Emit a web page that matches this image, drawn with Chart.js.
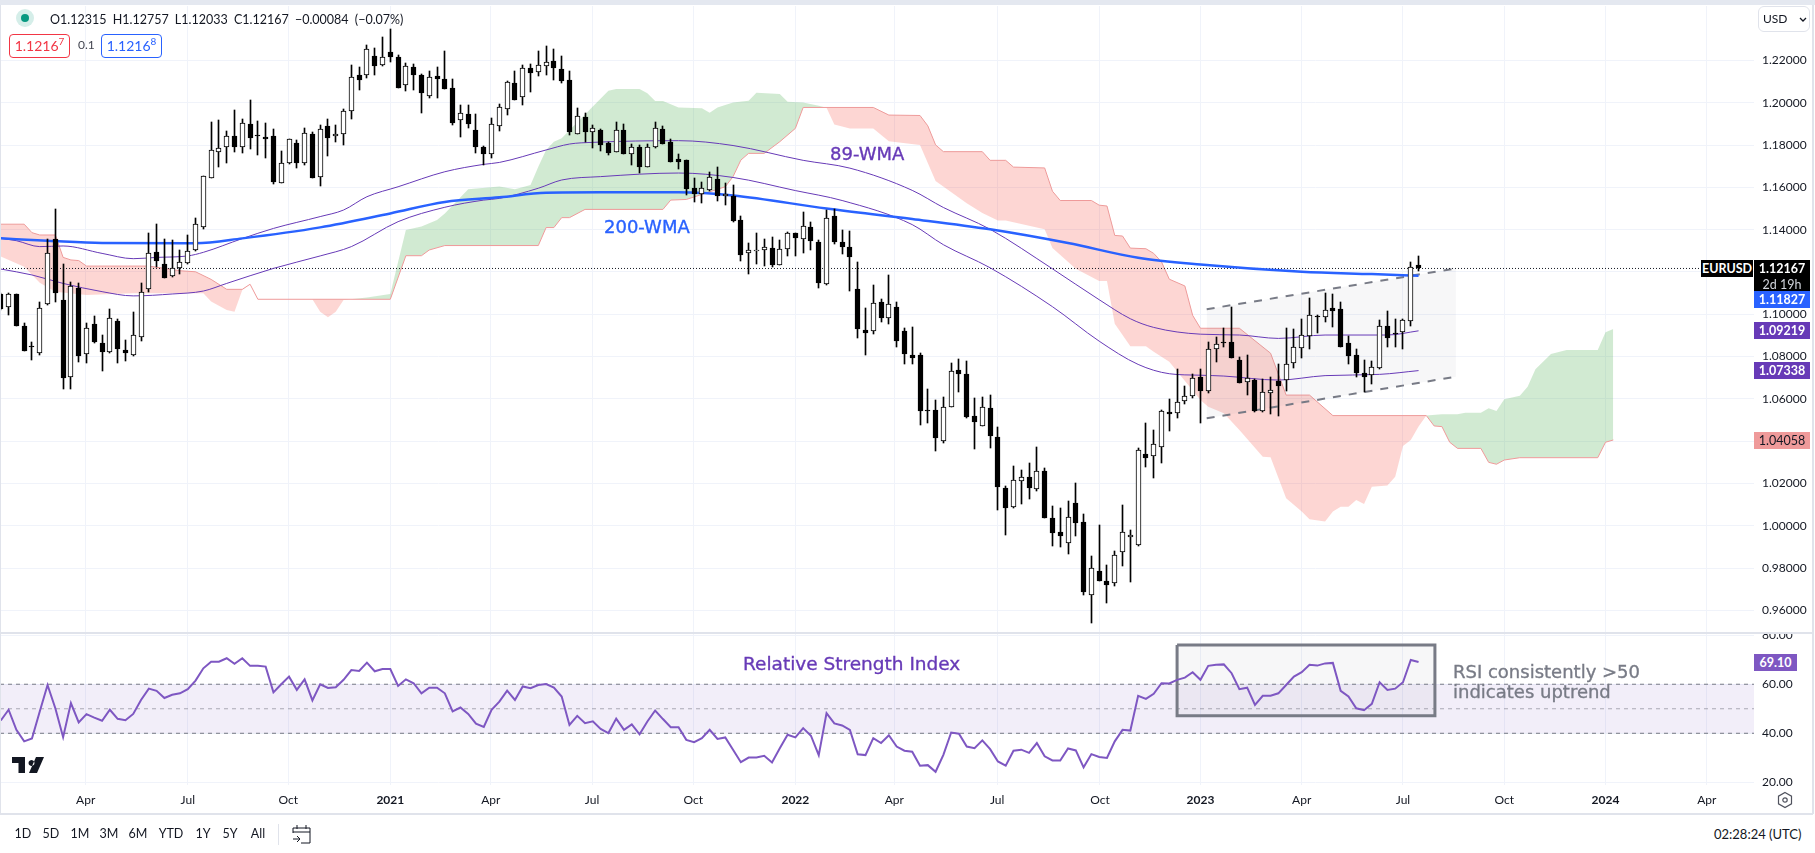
<!DOCTYPE html>
<html>
<head>
<meta charset="utf-8">
<title>EURUSD</title>
<script src="https://cdn.jsdelivr.net/npm/chart.js@4/dist/chart.umd.min.js"></script>
<style>
    html, body { margin: 0; padding: 0; background: #fff; }
    #page { position: relative; width: 1815px; height: 853px; overflow: hidden; background: #fff; color: #131722; font-family: Lato, sans-serif; font-size: 13px; }
    #page canvas { position: absolute; left: 0; }
    #page div, #page span.abs { position: absolute; white-space: nowrap; }
    #topbar { left: 0; top: 0; width: 1815px; height: 5px; background: #e4e8f0; }
    #sep1 { left: 0; top: 632px; width: 1813px; height: 2px; background: #e0e3eb; }
    #sep2 { left: 0; top: 813px; width: 1813px; height: 2px; background: #e0e3eb; }
    #edgeL { left: 0; top: 5px; width: 1px; height: 809px; background: #e0e3eb; }
    #edgeR { left: 1812px; top: 5px; width: 2px; height: 809px; background: #e0e3eb; }
    #halo { left: 16px; top: 9px; width: 18px; height: 18px; border-radius: 50%; background: #d5eee9; }
    #dot { left: 21px; top: 14px; width: 8px; height: 8px; border-radius: 50%; background: #089981; }
    #ohlc { left: 50px; top: 11px; line-height: 18px; font-size: 12.5px; word-spacing: 3px; }
    .quote { top: 34px; height: 22px; line-height: 22px; border-radius: 4px; text-align: center; background: #fff; font-size: 14px; }
    .quote sup { font-size: 10px; line-height: 0; }
    #sell { left: 9px; width: 59px; border: 1px solid #f23645; color: #f23645; }
    #buy { left: 101px; width: 59px; border: 1px solid #2962ff; color: #2962ff; }
    #spread { left: 78px; top: 37px; font-size: 12px; color: #434651; }
    #usd { left: 1758px; top: 6px; width: 50px; height: 24px; border: 1px solid #e0e3eb; border-radius: 6px; line-height: 24px; text-indent: 4px; font-size: 12px; }
    .tag { height: 17px; line-height: 17px; font-size: 12.5px; text-align: center; color: #fff; font-weight: 700; }
    #tagSymbol { left: 1701px; top: 260px; width: 52px; background: #000; }
    #tagLast { left: 1754px; top: 260px; width: 56px; height: 31px; background: #000; }
    #tagCount { left: 1754px; top: 276px; width: 56px; color: #d1d4dc; font-weight: 400; }
    #tagWma200 { left: 1754px; top: 291px; width: 56px; background: #2962ff; }
    #tagWma89 { left: 1754px; top: 322px; width: 56px; background: #673ab7; }
    #tagWma55 { left: 1754px; top: 362px; width: 56px; background: #673ab7; }
    #tagSpan { left: 1754px; top: 432px; width: 56px; background: #ef9a9a; color: #131722; font-weight: 400; }
    #tagRsi { left: 1754px; top: 654px; width: 43px; background: #7e57c2; }
    .note { font-family: "DejaVu Sans", sans-serif; -webkit-text-stroke: 0.35px currentColor; }
    #note89 { left: 830px; top: 141px; font-size: 18px; line-height: 26px; color: #673ab7; }
    #note200 { left: 604px; top: 214px; font-size: 18px; line-height: 26px; color: #2962ff; }
    #noteRsi { left: 743px; top: 652px; font-size: 18.5px; line-height: 24px; color: #673ab7; }
    #noteUp { left: 1453px; top: 662px; font-size: 18px; line-height: 20px; color: #787b86; }
    #logo { left: 12px; top: 757px; width: 32px; height: 16px; }
    .range { top: 825px; line-height: 18px; font-size: 12.5px; transform: translateX(-50%); }
    #rangeSep { left: 278px; top: 824px; width: 1px; height: 21px; background: #e0e3eb; }
    #calendar { left: 292px; top: 824px; width: 19px; height: 20px; }
    #gear { left: 1776px; top: 791px; width: 18px; height: 18px; }
    #clock { left: 1714px; top: 825px; line-height: 18px; font-size: 13px; }
</style>
</head>
<body>
<div id="page">
    <canvas id="price-chart" width="1815" height="633" style="top:0"></canvas>
    <canvas id="rsi-chart" width="1815" height="181" style="top:633px"></canvas>

    <div id="topbar"></div><div id="sep1"></div><div id="sep2"></div><div id="edgeL"></div><div id="edgeR"></div>

    <div id="halo"></div><div id="dot"></div>
    <div id="ohlc">O1.12315 H1.12757 L1.12033 C1.12167 −0.00084 (−0.07%)</div>
    <div id="sell" class="quote">1.1216<sup>7</sup></div>
    <div id="spread">0.1</div>
    <div id="buy" class="quote">1.1216<sup>8</sup></div>
    <div id="usd">USD<svg width="8" height="5" style="position:absolute;left:40px;top:10px"><path d="M1 1l3 3 3-3" fill="none" stroke="#131722" stroke-width="1.3"/></svg></div>

    <div id="note89" class="note">89-WMA</div>
    <div id="note200" class="note">200-WMA</div>
    <div id="noteRsi" class="note">Relative Strength Index</div>
    <div id="noteUp" class="note">RSI consistently &gt;50<br>indicates uptrend</div>

    <div id="tagSymbol" class="tag">EURUSD</div>
    <div id="tagLast" class="tag">1.12167</div>
    <div id="tagCount" class="tag">2d 19h</div>
    <div id="tagWma200" class="tag">1.11827</div>
    <div id="tagWma89" class="tag">1.09219</div>
    <div id="tagWma55" class="tag">1.07338</div>
    <div id="tagSpan" class="tag">1.04058</div>
    <div id="tagRsi" class="tag">69.10</div>

    <svg id="logo" class="abs" style="position:absolute" viewBox="0 0 32 16"><path d="M0 0h13v16H6.5V6H0zM16.5 6a3 3 0 1 0 0-.01zM24 0h8l-7 16h-8z" fill="#131722"/></svg>

    <div class="range" style="left:23px">1D</div>
    <div class="range" style="left:51px">5D</div>
    <div class="range" style="left:80px">1M</div>
    <div class="range" style="left:109px">3M</div>
    <div class="range" style="left:138px">6M</div>
    <div class="range" style="left:171px">YTD</div>
    <div class="range" style="left:203px">1Y</div>
    <div class="range" style="left:230px">5Y</div>
    <div class="range" style="left:258px">All</div>
    <div id="rangeSep"></div>
    <svg id="calendar" style="position:absolute" viewBox="0 0 19 20"><path d="M1 9V4h17v15H9M1 8h17M5 1v4M14 1v4M1 15h7M5 12l3 3-3 3" fill="none" stroke="#131722"/></svg>
    <svg id="gear" style="position:absolute" viewBox="0 0 18 18"><path d="M9 1.5l6.5 3.7v7.6L9 16.5l-6.5-3.7V5.200z" fill="none" stroke="#50535e" stroke-width="1.2"/><circle cx="9" cy="9" r="2.200" fill="none" stroke="#50535e" stroke-width="1.2"/></svg>
    <div id="clock">02:28:24 (UTC)</div>
</div>

<script>
    // weekly candles, index 0 is the week of 13 Jan 2020
    const opens = [
        1.1096,1.1033,1.1096,1.0945,1.0850,1.0815,1.1047,1.1354,1.1068,1.0705,
        1.1122,1.0810,1.0955,1.0863,1.0823,1.0968,1.0831,1.0808,1.0894,1.1118,
        1.1293,1.1238,1.1182,1.1217,1.1241,1.1302,1.1414,1.1643,1.1769,1.1790,
        1.1842,1.1790,1.1900,1.1846,1.1837,1.1843,1.1622,1.1714,1.1808,1.1717,
        1.1852,1.1648,1.1889,1.1842,1.1851,1.1960,1.2130,1.2133,1.2220,1.2177,
        1.2239,1.2215,1.2083,1.2168,1.2130,1.2034,1.2125,1.2111,1.2068,1.1917,
        1.1945,1.1870,1.1791,1.1756,1.1889,1.1972,1.2092,1.2029,1.2163,1.2144,
        1.2172,1.2199,1.2158,1.2106,1.1854,1.1931,1.1863,1.1870,1.1809,1.1769,
        1.1871,1.1759,1.1793,1.1697,1.1793,1.1875,1.1813,1.1735,1.1728,1.1595,
        1.1570,1.1590,1.1639,1.1557,1.1560,1.1448,1.1289,1.1297,1.1302,1.1313,
        1.1235,1.1311,1.1383,1.1354,1.1411,1.1342,1.1142,1.1463,1.1342,1.1318,
        1.1119,1.0924,1.0919,1.1056,1.0984,1.1033,1.0921,1.0807,1.0807,1.0548,
        1.0546,1.0403,1.0564,1.0735,1.0720,1.0517,1.0474,1.0556,1.0418,1.0177,
        1.0087,1.0211,1.0229,1.0175,1.0258,1.0035,0.9970,0.9921,1.0107,1.0017,
        0.9672,0.9784,0.9737,0.9729,0.9875,0.9945,0.9908,1.0338,1.0328,1.0374,
        1.0537,1.0532,1.0592,1.0615,1.0702,1.0639,1.0834,1.0869,1.0867,1.0782,
        1.0682,1.0688,1.0544,1.0626,1.0685,1.0688,1.0771,1.0839,1.0899,1.0992,
        1.0989,1.1030,1.1024,1.0863,1.0806,1.0721,1.0711,1.0748,1.0943,1.0910,
        1.0915,1.0970,1.12315
    ];
    const highs = [
        1.1099,1.1099,1.1096,1.0961,1.0871,1.1057,1.1354,1.1498,1.1238,1.1153,
        1.1146,1.0958,1.0992,1.0902,1.1024,1.0976,1.0878,1.1010,1.1146,1.1383,
        1.1427,1.1356,1.1352,1.1304,1.1375,1.1454,1.1655,1.1909,1.1919,1.1867,
        1.1966,1.1923,1.2013,1.1915,1.1906,1.1875,1.1772,1.1830,1.1824,1.1881,
        1.1860,1.1893,1.1923,1.1895,1.1969,1.2179,1.2171,1.2273,1.2257,1.2311,
        1.2347,1.2226,1.2187,1.2183,1.2135,1.2150,1.2171,1.2245,1.2111,1.1990,
        1.1988,1.1947,1.1796,1.1930,1.1994,1.2103,1.2150,1.2179,1.2183,1.2245,
        1.2268,1.2253,1.2221,1.2150,1.1977,1.1950,1.1895,1.1875,1.1817,1.1907,
        1.1899,1.1805,1.1801,1.1806,1.1907,1.1891,1.1829,1.1757,1.1728,1.1643,
        1.1626,1.1671,1.1696,1.1619,1.1609,1.1463,1.1337,1.1383,1.1354,1.1365,
        1.1349,1.1391,1.1386,1.1484,1.1435,1.1349,1.1492,1.1500,1.1399,1.1394,
        1.1248,1.1028,1.1139,1.1072,1.1186,1.1056,1.0935,1.0938,1.0816,1.0645,
        1.0597,1.0610,1.0768,1.0789,1.0779,1.0605,1.0610,1.0618,1.0466,1.0190,
        1.0282,1.0263,1.0295,1.0372,1.0274,1.0092,1.0084,1.0116,1.0203,1.0054,
        0.9856,1.0002,0.9815,0.9880,1.0097,0.9978,1.0369,1.0486,1.0453,1.0548,
        1.0598,1.0740,1.0661,1.0716,1.0740,1.0869,1.0894,1.0934,1.1036,1.0800,
        1.0806,1.0693,1.0694,1.0705,1.0763,1.0934,1.0931,1.0976,1.1075,1.0998,
        1.1102,1.1096,1.1058,1.0897,1.0834,1.0784,1.0781,1.0973,1.1016,1.0976,
        1.0976,1.1246,1.12757
    ];
    const lows = [
        1.1021,1.0997,1.0945,1.0828,1.0784,1.0807,1.1043,1.1060,1.0645,1.0645,
        1.0776,1.0771,1.0863,1.0733,1.0815,1.0768,1.0781,1.0804,1.0875,1.1107,
        1.1225,1.1173,1.1174,1.1190,1.1238,1.1299,1.1403,1.1643,1.1698,1.1717,
        1.1769,1.1764,1.1782,1.1753,1.1737,1.1616,1.1619,1.1711,1.1693,1.1708,
        1.1646,1.1608,1.1750,1.1816,1.1802,1.1925,1.2062,1.2119,1.2133,1.2176,
        1.2194,1.2071,1.2057,1.2062,1.1953,1.2024,1.2024,1.2067,1.1897,1.1840,
        1.1879,1.1764,1.1706,1.1741,1.1868,1.1942,1.2013,1.1990,1.2053,1.2127,
        1.2131,1.2108,1.2095,1.1848,1.1851,1.1813,1.1785,1.1772,1.1753,1.1769,
        1.1757,1.1707,1.1668,1.1696,1.1788,1.1806,1.1720,1.1687,1.1565,1.1533,
        1.1528,1.1582,1.1538,1.1516,1.1438,1.1253,1.1191,1.1240,1.1228,1.1223,
        1.1232,1.1277,1.1276,1.1292,1.1305,1.1126,1.1139,1.1334,1.1285,1.1109,
        1.0890,1.0808,1.0906,1.0963,1.0952,1.0844,1.0763,1.0764,1.0478,1.0488,
        1.0356,1.0393,1.0564,1.0632,1.0510,1.0364,1.0474,1.0369,1.0076,0.9958,
        1.0084,1.0103,1.0128,1.0165,1.0038,0.9905,0.9900,0.9867,0.9954,0.9673,
        0.9542,0.9737,0.9636,0.9713,0.9812,0.9734,0.9905,1.0279,1.0227,1.0298,
        1.0448,1.0511,1.0576,1.0603,1.0488,1.0626,1.0776,1.0844,1.0795,1.0674,
        1.0618,1.0540,1.0540,1.0529,1.0521,1.0639,1.0748,1.0792,1.0836,1.0913,
        1.0964,1.0942,1.0847,1.0765,1.0705,1.0631,1.0670,1.0741,1.0847,1.0844,
        1.0836,1.0945,1.12033
    ];
    const closes = [
        1.1024,1.1096,1.0945,1.0828,1.0844,1.1029,1.1288,1.1102,1.0700,1.1136,
        1.0804,1.0934,1.0871,1.0823,1.0981,1.0837,1.0818,1.0901,1.1104,1.1288,
        1.1253,1.1173,1.1217,1.1245,1.1298,1.1425,1.1655,1.1775,1.1785,1.1842,
        1.1793,1.1903,1.1835,1.1843,1.1830,1.1627,1.1714,1.1827,1.1714,1.1856,
        1.1646,1.1875,1.1835,1.1854,1.1963,1.2120,1.2109,1.2253,1.2176,1.2215,
        1.2218,1.2071,1.2174,1.2133,1.2048,1.2120,1.2114,1.2067,1.1906,1.1950,
        1.1901,1.1793,1.1758,1.1898,1.1982,1.2097,1.2015,1.2163,1.2142,1.2180,
        1.2191,1.2166,1.2103,1.1863,1.1936,1.1863,1.1879,1.1801,1.1764,1.1870,
        1.1757,1.1793,1.1696,1.1793,1.1880,1.1806,1.1720,1.1722,1.1593,1.1569,
        1.1595,1.1647,1.1560,1.1567,1.1440,1.1282,1.1306,1.1306,1.1316,1.1235,
        1.1311,1.1383,1.1362,1.1416,1.1346,1.1150,1.1453,1.1342,1.1319,1.1272,
        1.0932,1.0913,1.1052,1.0984,1.1048,1.0875,1.0810,1.0795,1.0545,1.0545,
        1.0413,1.0561,1.0733,1.0719,1.0515,1.0492,1.0561,1.0426,1.0185,1.0085,
        1.0216,1.0229,1.0178,1.0258,1.0038,0.9968,0.9954,1.0043,1.0015,0.9688,
        0.9802,0.9740,0.9722,0.9861,0.9970,0.9958,1.0357,1.0321,1.0385,1.0543,
        1.0530,1.0587,1.0615,1.0700,1.0639,1.0834,1.0858,1.0866,1.0795,1.0677,
        1.0697,1.0544,1.0634,1.0641,1.0661,1.0763,1.0844,1.0901,1.0995,1.0989,
        1.1019,1.1016,1.0847,1.0804,1.0724,1.0705,1.0749,1.0943,1.0890,1.0905,
        1.0971,1.1225,1.12167
    ];

    const rsiValues = [
        45.2,49.6,41.4,36.7,37.9,48.9,59.7,50.2,38.4,52.3,
        44.4,47.8,46.4,45.1,49.6,45.9,45.3,47.9,53.6,58.2,
        57.3,54.4,55.7,56.3,58.0,61.5,66.5,69.2,69.2,70.6,
        68.3,70.6,67.5,67.5,67.2,56.7,60.0,63.1,57.7,62.0,
        53.4,60.0,58.5,58.8,61.8,65.8,65.4,68.8,65.3,66.2,
        66.2,59.3,62.0,60.4,56.3,58.6,58.6,56.3,48.9,50.5,
        47.9,43.9,42.6,49.6,52.9,57.4,53.6,59.1,58.4,59.7,
        60.1,58.6,55.0,43.4,47.1,44.1,44.9,41.8,40.1,46.0,
        41.4,43.6,39.6,44.8,49.3,45.8,42.5,42.5,37.3,36.4,
        38.0,41.4,37.7,38.3,33.3,28.2,30.1,30.1,30.8,28.1,
        33.9,39.4,38.3,42.1,39.0,31.1,48.2,44.0,43.2,41.4,
        31.4,31.1,38.0,36.0,39.2,34.6,32.9,32.5,26.8,27.0,
        24.3,31.2,40.3,39.8,34.6,33.9,37.1,33.5,28.5,26.8,
        32.9,33.3,32.0,36.0,30.6,28.9,28.9,33.8,33.0,26.1,
        31.5,30.3,29.9,36.7,41.4,41.1,55.3,54.0,56.1,60.4,
        60.3,61.8,62.7,64.9,61.8,67.5,67.9,68.1,64.5,58.0,
        58.6,51.6,55.3,55.3,56.3,59.7,63.1,64.9,67.9,67.6,
        68.5,68.7,57.3,55.0,50.2,49.4,52.0,60.8,57.7,58.2,
        60.8,69.9,69.1
    ];

    // moving averages, read at the weeks listed
    const wma200Weeks = [0,6,13,25,31,41,50,57,64,70,77,87,94,106,117,127,137,146,154,167,176,182];
    const wma200 = [1.1359,1.1348,1.1337,1.1336,1.1359,1.1411,1.1477,1.1531,1.1553,1.1575,1.1577,1.1577,1.1562,1.1500,1.1451,1.1402,1.1337,1.1267,1.1235,1.1201,1.1190,1.11827];

    const wma89Weeks = [0,2,5,8,13,17,20,24,26,31,35,41,44,47,51,57,62,64,70,73,76,87,94,103,109,117,121,127,135,141,145,148,154,159,164,170,178,182];
    const wma89 = [1.1359,1.1348,1.1320,1.1323,1.1288,1.1263,1.1269,1.1276,1.1293,1.1358,1.1406,1.1462,1.1493,1.1556,1.1603,1.1674,1.1709,1.1718,1.1777,1.1805,1.1813,1.1821,1.1798,1.1728,1.1691,1.1586,1.1505,1.1402,1.1215,1.1069,1.0979,1.0938,1.0906,1.0902,1.0886,1.0902,1.0902,1.09219];

    const wmaLowWeeks = [0,4,8,13,17,22,26,29,35,41,45,51,57,62,64,69,72,77,87,94,102,108,117,121,127,135,141,146,150,154,157,164,170,177,182];
    const wmaLow = [1.1214,1.1186,1.1146,1.1107,1.1087,1.1096,1.1110,1.1146,1.1217,1.1276,1.1320,1.1438,1.1506,1.1540,1.1548,1.1596,1.1635,1.1651,1.1668,1.1647,1.1585,1.1538,1.1424,1.1329,1.1220,1.1036,1.0873,1.0763,1.0719,1.0712,1.0708,1.0689,1.0710,1.0716,1.07338];

    // ichimoku cloud edges
    const spanAWeeks = [0,3,5,7,11,17,22,26,27,29,30,31,32,33,40,41,42,43,44,47,50,52,54,56,57,60,64,66,68,69,70,71,72,76,78,79,82,83,84,85,87,90,91,92,94,96,97,100,101,103,105,106,107,109,112,114,118,120,124,126,128,129,134,135,138,141,142,143,145,147,148,150,154,155,157,159,162,163,165,167,168,170,171,172,173,174,175,176,178,179,180,181,182,183,185,187,188,190,191,192,193,195,196,197,199,201,205,206,207];
    const spanA = [1.1273,1.1225,1.1149,1.1107,1.1091,1.1099,1.1099,1.1099,1.1060,1.1020,1.1012,1.1115,1.1142,1.1071,1.1071,1.1012,1.0986,1.1012,1.1068,1.1080,1.1096,1.1399,1.1415,1.1446,1.1477,1.1591,1.1604,1.1591,1.1611,1.1698,1.1777,1.1816,1.1832,1.1982,1.2057,1.2065,1.2065,1.2045,1.2008,1.2008,1.1978,1.1974,1.1953,1.1978,1.2002,1.2010,1.2048,1.2042,1.2005,1.2002,1.1986,1.1977,1.1897,1.1878,1.1878,1.1818,1.1801,1.1630,1.1525,1.1479,1.1443,1.1443,1.1402,1.1313,1.1215,1.1158,1.1158,1.0955,1.0849,1.0849,1.0823,1.0776,1.0595,1.0563,1.0532,1.0453,1.0327,1.0324,1.0130,1.0067,1.0031,1.0020,1.0067,1.0090,1.0090,1.0122,1.0103,1.0185,1.0190,1.0232,1.0377,1.0406,1.0469,1.0521,1.0527,1.0527,1.0535,1.0535,1.0556,1.0543,1.0598,1.0615,1.0658,1.0740,1.0812,1.0831,1.0831,1.0915,1.0931];

    const spanBWeeks = [0,3,4,5,7,8,9,10,11,19,23,25,27,29,31,32,33,50,52,54,55,57,69,70,71,72,73,75,85,86,88,93,94,95,96,98,100,102,103,112,114,118,119,120,121,126,127,129,130,134,135,136,140,141,142,143,144,145,147,148,149,150,152,153,154,159,163,165,168,171,183,184,185,186,187,190,191,192,193,195,205,206,207];
    const spanB = [1.1426,1.1426,1.1386,1.1375,1.1375,1.1269,1.1257,1.1254,1.1228,1.1228,1.1206,1.1201,1.1165,1.1118,1.1118,1.1142,1.1071,1.1071,1.1277,1.1277,1.1304,1.1325,1.1325,1.1410,1.1410,1.1457,1.1457,1.1496,1.1496,1.1540,1.1543,1.1603,1.1651,1.1729,1.1761,1.1761,1.1816,1.1879,1.1978,1.1978,1.1942,1.1940,1.1891,1.1801,1.1769,1.1769,1.1728,1.1728,1.1696,1.1692,1.1582,1.1538,1.1538,1.1516,1.1512,1.1373,1.1370,1.1313,1.1310,1.1288,1.1248,1.1166,1.1134,1.0995,1.0934,1.0934,1.0816,1.0618,1.0618,1.0521,1.0521,1.0472,1.0469,1.0395,1.0366,1.0366,1.0300,1.0291,1.0311,1.0322,1.0322,1.0395,1.04058];

    // parallel channel on the 2023 range
    const channelWeeks = [154.8,186.8];
    const channelUpper = [1.1024,1.1217];
    const channelLower = [1.0508,1.0705];
    const lastPrice = 1.12167;

    // RSI box drawn around 2023
    const rsiBoxWeeks = [151,184.1,184.1,151,151];
    const rsiBoxValues = [76,76,47.1,47.1,76];

    const tickWeeks = [10.9,24,36.9,50,62.9,75.9,88.9,102,114.7,127.9,141.1,154,167,180,193,206,219];
    const tickLabels = ['Apr','Jul','Oct','2021','Apr','Jul','Oct','2022','Apr','Jul','Oct','2023','Apr','Jul','Oct','2024','Apr'];
    const priceTicks = [0.96,0.98,1.00,1.02,1.04,1.06,1.08,1.10,1.12,1.14,1.16,1.18,1.20,1.22];
    const rsiTicks = [20,40,60,80];

    const xMin = -0.103, xMax = 225.06;
    const gridColor = '#f0f3fa';
    const tickFont = { family: 'Lato, sans-serif', size: 12 };

    function pairs(weeks, values) {
        return weeks.map((w, i) => ({ x: w, y: values[i] }));
    }

    function noScalePadding(s) {
        s.paddingLeft = s.paddingRight = s.paddingTop = s.paddingBottom = 0;
    }

    function xScale(showLabels) {
        return {
            type: 'linear', min: xMin, max: xMax, offset: false,
            border: { display: false },
            grid: { color: gridColor, offset: false, drawTicks: false },
            afterBuildTicks: s => { s.ticks = tickWeeks.map(v => ({ value: v })); },
            afterFit: s => { s.height = showLabels ? 29 : 0; noScalePadding(s); },
            ticks: {
                display: showLabels, autoSkip: false, maxRotation: 0, padding: 8, color: '#131722',
                font: ctx => ({ family: tickFont.family, size: 12, weight: ctx.tick && ctx.tick.label && ctx.tick.label.length === 4 ? 700 : 400 }),
                callback: v => tickLabels[tickWeeks.indexOf(v)]
            }
        };
    }

    function yScale(min, max, values, digits) {
        return {
            position: 'right', min: min, max: max,
            border: { display: false },
            grid: { color: gridColor, drawTicks: false },
            afterBuildTicks: s => { s.ticks = values.map(v => ({ value: v })); },
            afterFit: s => { s.width = 61; noScalePadding(s); },
            ticks: { autoSkip: false, padding: 8, color: '#131722', font: tickFont, callback: v => v.toFixed(digits) }
        };
    }

    // snap bars to whole pixels so one pixel wicks stay sharp
    const snapBars = {
        id: 'snapBars',
        afterDatasetsUpdate(chart) {
            chart.getSortedVisibleDatasetMetas().forEach(meta => {
                if (meta.type !== 'bar') return;
                meta.data.forEach(el => {
                    el.x = Math.floor(el.x) + 0.5;
                    el.y = Math.round(el.y);
                    el.base = Math.round(el.base);
                });
            });
        }
    };

    const isUp = i => closes[i] >= opens[i];

    new Chart(document.getElementById('price-chart'), {
        type: 'bar',
        plugins: [snapBars],
        data: {
            datasets: [
                {
                    type: 'bar', label: 'wick', order: 2, barThickness: 1, grouped: false, backgroundColor: '#000',
                    data: opens.map((o, i) => ({ x: i, y: [lows[i], highs[i]] }))
                },
                {
                    type: 'bar', label: 'body', order: 1, barThickness: 5, grouped: false, borderWidth: 1, borderSkipped: false, borderColor: '#000',
                    backgroundColor: ctx => isUp(ctx.dataIndex) ? '#fff' : '#000',
                    data: opens.map((o, i) => ({ x: i, y: [o, closes[i]] }))
                },
                {
                    type: 'line', label: 'Span A', order: 8, pointRadius: 0, borderWidth: 0, borderColor: 'rgba(0,0,0,0)',
                    fill: { target: 3, above: 'rgba(76,175,80,0.26)', below: 'rgba(244,67,54,0.22)' },
                    data: pairs(spanAWeeks, spanA)
                },
                {
                    type: 'line', label: 'Span B', order: 7, pointRadius: 0, borderWidth: 1, borderColor: '#ef9a9a',
                    data: pairs(spanBWeeks, spanB)
                },
                {
                    type: 'line', label: 'channel upper', order: 6, pointRadius: 0, borderWidth: 2, borderColor: '#787b86', borderDash: [8, 8],
                    fill: { target: 5, above: 'rgba(120,123,134,0.06)', below: 'rgba(120,123,134,0.06)' },
                    data: pairs(channelWeeks, channelUpper)
                },
                {
                    type: 'line', label: 'channel lower', order: 6, pointRadius: 0, borderWidth: 2, borderColor: '#787b86', borderDash: [8, 8],
                    data: pairs(channelWeeks, channelLower)
                },
                {
                    type: 'line', label: '200-WMA', order: 3, pointRadius: 0, borderWidth: 2.5, borderColor: '#2962ff', cubicInterpolationMode: 'monotone',
                    data: pairs(wma200Weeks, wma200)
                },
                {
                    type: 'line', label: '89-WMA', order: 3, pointRadius: 0, borderWidth: 1, borderColor: '#673ab7', cubicInterpolationMode: 'monotone',
                    data: pairs(wma89Weeks, wma89)
                },
                {
                    type: 'line', label: 'lower WMA', order: 3, pointRadius: 0, borderWidth: 1, borderColor: '#673ab7', cubicInterpolationMode: 'monotone',
                    data: pairs(wmaLowWeeks, wmaLow)
                },
                {
                    type: 'line', label: 'last', order: 4, pointRadius: 0, borderWidth: 1, borderColor: '#131722', borderDash: [1, 2],
                    data: pairs([xMin, xMax], [lastPrice, lastPrice])
                }
            ]
        },
        options: {
            responsive: false, animation: false, devicePixelRatio: 1,
            layout: { padding: { top: 6 } },
            plugins: { legend: { display: false }, tooltip: { enabled: false } },
            scales: { x: xScale(false), y: yScale(0.94931, 1.24577, priceTicks, 5) }
        }
    });

    new Chart(document.getElementById('rsi-chart'), {
        type: 'line',
        data: {
            datasets: [
                {
                    label: 'RSI', order: 1, pointRadius: 0, borderWidth: 2, borderColor: '#7e57c2',
                    data: rsiValues.map((v, i) => ({ x: i, y: v }))
                },
                {
                    label: 'upper band', order: 5, pointRadius: 0, borderWidth: 1, borderColor: '#787b86', borderDash: [4, 4],
                    fill: { target: 2, above: 'rgba(126,87,194,0.1)' },
                    data: pairs([xMin, xMax], [60, 60])
                },
                {
                    label: 'lower band', order: 5, pointRadius: 0, borderWidth: 1, borderColor: '#787b86', borderDash: [4, 4],
                    data: pairs([xMin, xMax], [40, 40])
                },
                {
                    label: 'middle band', order: 4, pointRadius: 0, borderWidth: 1, borderColor: 'rgba(120,123,134,0.6)', borderDash: [4, 4],
                    data: pairs([xMin, xMax], [50, 50])
                },
                {
                    label: 'box', order: 3, pointRadius: 0, borderWidth: 3, borderColor: '#787b86',
                    fill: 'shape', backgroundColor: 'rgba(120,123,134,0.06)',
                    data: pairs(rsiBoxWeeks, rsiBoxValues)
                }
            ]
        },
        options: {
            responsive: false, animation: false, devicePixelRatio: 1,
            plugins: { legend: { display: false }, tooltip: { enabled: false } },
            scales: { x: xScale(true), y: yScale(18.9, 80.9, rsiTicks, 2) }
        }
    });
</script>
</body>
</html>
